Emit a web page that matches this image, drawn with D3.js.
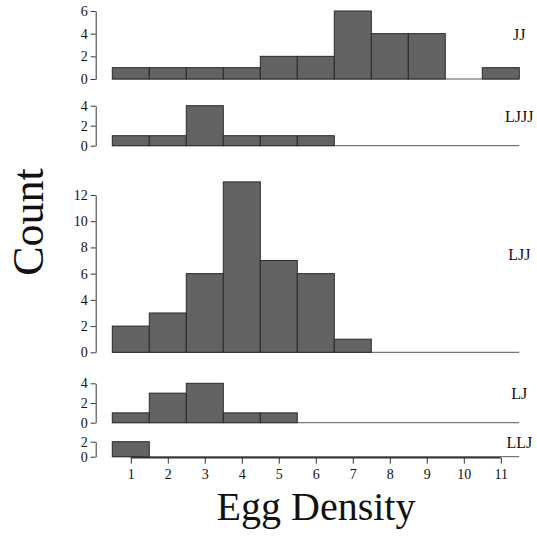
<!DOCTYPE html>
<html>
<head>
<meta charset="utf-8">
<script src="https://cdn.jsdelivr.net/npm/d3@7"></script>
<style>
  body { margin: 0; background: #fff; }
  text { font-family: "Liberation Serif", "Times New Roman", serif; fill: #111; }
</style>
</head>
<body>
<div id="chart"></div>
<script>
// bins 1..11, counts per group
var bins = [1, 2, 3, 4, 5, 6, 7, 8, 9, 10, 11];
var groups = ["JJ", "LJJJ", "LJJ", "LJ", "LLJ"];
var countsJJ   = [1, 1, 1, 1, 2, 2, 6, 4, 4, 0, 1];
var countsLJJJ = [1, 1, 4, 1, 1, 1, 0, 0, 0, 0, 0];
var countsLJJ  = [2, 3, 6, 13, 7, 6, 1, 0, 0, 0, 0];
var countsLJ   = [1, 3, 4, 1, 1, 0, 0, 0, 0, 0, 0];
var countsLLJ  = [2, 0, 0, 0, 0, 0, 0, 0, 0, 0, 0];
var yTicksJJ   = [0, 2, 4, 6];
var yTicksLJJJ = [0, 2, 4];
var yTicksLJJ  = [0, 2, 4, 6, 8, 10, 12];
var yTicksLJ   = [0, 2, 4];
var yTicksLLJ  = [0, 2];

var panels = [
  {name: "JJ",   counts: countsJJ,   ticks: yTicksJJ,   top: 11,    bottom: 79,    max: 6,  labelY: 40},
  {name: "LJJJ", counts: countsLJJJ, ticks: yTicksLJJJ, top: 105.7, bottom: 145.7, max: 4,  labelY: 122},
  {name: "LJJ",  counts: countsLJJ,  ticks: yTicksLJJ,  top: 195,   bottom: 352.3, max: 12, labelY: 260},
  {name: "LJ",   counts: countsLJ,   ticks: yTicksLJ,   top: 383.3, bottom: 422.7, max: 4,  labelY: 399},
  {name: "LLJ",  counts: countsLLJ,  ticks: yTicksLLJ,  top: 441.7, bottom: 456.7, max: 2,  labelY: 448}
];

var W = 537, H = 537;
var svg = d3.select("#chart").append("svg")
  .attr("width", W)
  .attr("height", H);

// shared x scale
var x = d3.scaleLinear()
  .domain([0.5, 11.5])
  .range([112.3, 519.3]);

panels.forEach(function(p) {
  var y = d3.scaleLinear()
    .domain([0, p.max])
    .range([p.bottom, p.top]);

  // y axis
  var yAxis = svg.append("g")
    .attr("transform", "translate(95.7,0)")
    .call(d3.axisLeft(y).tickValues(p.ticks).tickFormat(d3.format("d"))
      .tickSize(5).tickSizeOuter(0).tickPadding(3));
  yAxis.selectAll("path").attr("stroke", "#333");
  yAxis.selectAll("line").attr("stroke", "#333");
  yAxis.selectAll("text")
    .style("font-family", '"Liberation Serif", serif')
    .style("font-size", "14px")
    .attr("fill", "#111");

  // baseline (empty bins)
  svg.append("line")
    .attr("x1", x(0.5)).attr("x2", x(11.5))
    .attr("y1", y(0)).attr("y2", y(0))
    .attr("stroke", "#555")
    .attr("stroke-width", 1);

  // bars
  svg.append("g")
    .selectAll("rect")
    .data(bins.filter(function(b, i) { return p.counts[i] > 0; }))
    .enter()
    .append("rect")
      .attr("x", function(b) { return x(b - 0.5); })
      .attr("width", function(b) { return x(b + 0.5) - x(b - 0.5); })
      .attr("y", function(b) { return y(p.counts[b - 1]); })
      .attr("height", function(b) { return y(0) - y(p.counts[b - 1]); })
      .attr("fill", "#636363")
      .attr("stroke", "#2a2a2a")
      .attr("stroke-width", 1);

  // group label
  svg.append("text")
    .attr("x", x(11.5))
    .attr("y", p.labelY)
    .attr("text-anchor", "middle")
    .style("font-size", "16px")
    .text(p.name);
});

// x axis
var xAxis = svg.append("g")
  .attr("transform", "translate(0,457.7)")
  .call(d3.axisBottom(x).tickValues(bins).tickFormat(d3.format("d")).tickSize(6).tickPadding(5).tickSizeOuter(0));
xAxis.select("path")
  .attr("d", "M" + x(1) + ",0H" + x(11))
  .attr("stroke", "#333")
  .attr("stroke-width", 1.5);
xAxis.selectAll("line").attr("stroke", "#333");
xAxis.selectAll("text")
  .style("font-family", '"Liberation Serif", serif')
  .style("font-size", "14px")
  .attr("fill", "#111");

// axis titles
svg.append("text")
  .attr("x", 316)
  .attr("y", 520)
  .attr("text-anchor", "middle")
  .style("font-size", "40px")
  .text("Egg Density");

svg.append("text")
  .attr("transform", "translate(43,222) rotate(-90)")
  .attr("text-anchor", "middle")
  .style("font-size", "44px")
  .text("Count");
</script>
</body>
</html>
